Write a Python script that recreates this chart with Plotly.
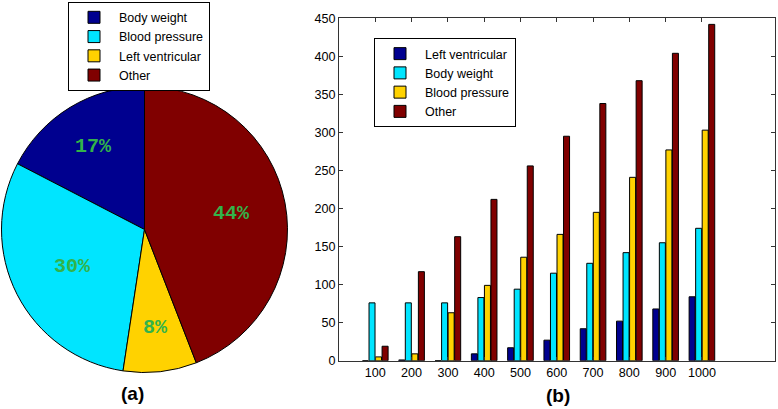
import math
import plotly.graph_objects as go

W, H = 778, 409

# ---- data ----
pie_labels = ["Body weight", "Blood pressure", "Left ventricular", "Other"]
pie_values = [17.4, 30.2, 8.3, 44.1]
pie_text = ["17%", "30%", "8%", "44%"]
pie_colors = ["#00008f", "#00e5ff", "#ffd200", "#800000"]
# radial placement of each percentage label (fraction of pie radius)
pie_label_radius = [0.68, 0.565, 0.69, 0.62]

bar_x = [100, 200, 300, 400, 500, 600, 700, 800, 900, 1000]
bar_names = ["Left ventricular", "Body weight", "Blood pressure", "Other"]
left_ventricular = [0, 1, 0, 9, 17, 27, 42, 52, 68, 84]
body_weight = [76, 76, 76, 83, 94, 115, 128, 142, 155, 174]
blood_pressure = [5, 9, 63, 99, 136, 166, 195, 241, 277, 303]
other = [19, 117, 163, 212, 256, 295, 338, 368, 404, 442]
bar_series = [left_ventricular, body_weight, blood_pressure, other]
bar_colors = ["#00008f", "#00e5ff", "#ffd200", "#800000"]

xticks = [100, 200, 300, 400, 500, 600, 700, 800, 900, 1000]
yticks = [0, 50, 100, 150, 200, 250, 300, 350, 400, 450]

FONT = "Liberation Sans, Arial, sans-serif"

fig = go.Figure()

# pie geometry (pixels)
cx, cy, r = 144.5, 229.5, 143.0
dom_x = [(cx - r) / W, (cx + r) / W]
dom_y = [(H - (cy + r)) / H, (H - (cy - r)) / H]

total = sum(pie_values)
# plotly's counterclockwise pies place the first slice clockwise of the start
# angle; rotate so the first slice starts at 12 o'clock going counterclockwise
rot = -360.0 * pie_values[0] / total

fig.add_trace(go.Pie(
    labels=pie_labels, values=pie_values, sort=False,
    direction="counterclockwise", rotation=rot,
    marker=dict(colors=pie_colors, line=dict(color="#000000", width=1)),
    textinfo="none", hoverinfo="label+percent",
    domain=dict(x=dom_x, y=dom_y),
    legend="legend", showlegend=True,
))

for name, vals, col in zip(bar_names, bar_series, bar_colors):
    fig.add_trace(go.Bar(
        x=bar_x, y=vals, name=name,
        marker=dict(color=col, line=dict(color="#000000", width=1)),
        legend="legend2", xaxis="x", yaxis="y",
    ))

# pie percentage labels positioned from the data angles
annotations = []
cum = 0.0
for v, t, k in zip(pie_values, pie_text, pie_label_radius):
    mid = (cum + v / 2) / total * 2 * math.pi
    cum += v
    px = cx - k * r * math.sin(mid)
    py = cy - k * r * math.cos(mid)
    annotations.append(dict(
        x=px / W, y=1 - py / H, xref="paper", yref="paper",
        xanchor="center", yanchor="middle",
        text="<b>" + t + "</b>", showarrow=False,
        font=dict(family="Liberation Mono, Courier New, monospace", size=20, color="#33b34a"),
    ))

annotations.append(dict(x=132 / W, y=1 - 393 / H, xref="paper", yref="paper",
                        xanchor="center", yanchor="middle",
                        text="<b>(a)</b>", showarrow=False,
                        font=dict(family=FONT, size=19, color="#000000")))
annotations.append(dict(x=558 / W, y=1 - 395 / H, xref="paper", yref="paper",
                        xanchor="center", yanchor="middle",
                        text="<b>(b)</b>", showarrow=False,
                        font=dict(family=FONT, size=19, color="#000000")))

axis_common = dict(showline=True, linecolor="#333333", linewidth=1, mirror="ticks",
                   ticks="inside", ticklen=4, tickcolor="#333333", showgrid=False,
                   zeroline=False, tickfont=dict(family=FONT, size=12.6, color="#000000"))

fig.update_layout(
    width=W, height=H,
    margin=dict(l=0, r=0, t=0, b=0, pad=0, autoexpand=False),
    paper_bgcolor="white", plot_bgcolor="white",
    barmode="group", bargap=0.28, bargroupgap=0.08,
    xaxis=dict(domain=[339 / W, 774.5 / W], range=[0, 1200], tickvals=xticks,
               ticktext=[str(v) for v in xticks], **axis_common),
    yaxis=dict(domain=[(H - 360.7) / H, (H - 18.3) / H], range=[0, 450], tickvals=yticks,
               **axis_common),
    legend=dict(x=68 / W, y=1 - 1.7 / H, xanchor="left", yanchor="top",
                bordercolor="#000000", borderwidth=1, bgcolor="white",
                font=dict(family=FONT, size=12.5, color="#000000"),
                itemwidth=40, tracegroupgap=0, traceorder="normal"),
    legend2=dict(x=374 / W, y=1 - 38 / H, xanchor="left", yanchor="top",
                 bordercolor="#000000", borderwidth=1, bgcolor="white",
                 font=dict(family=FONT, size=12.5, color="#000000"),
                 itemwidth=40, tracegroupgap=0, traceorder="normal"),
    annotations=annotations,
    showlegend=True,
)

fig.write_html(
    "out.html",
    config={"displayModeBar": False},
    post_script="document.body.style.margin='0';document.body.style.overflow='hidden';",
)
